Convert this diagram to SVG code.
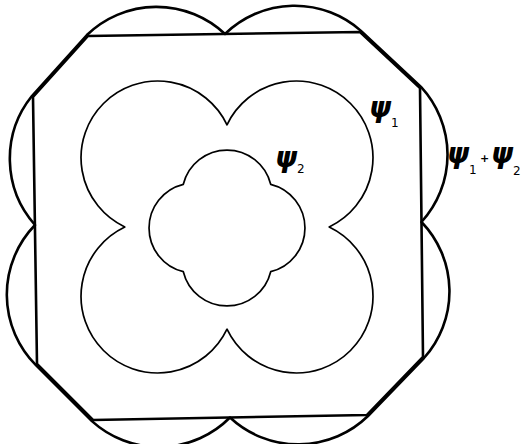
<svg xmlns="http://www.w3.org/2000/svg" width="523" height="444" viewBox="0 0 523 444">
<style>
.bg{fill:#fff}
.thin{fill:none;stroke:#000;stroke-width:1.7;stroke-linejoin:round}
.thick{fill:none;stroke:#000;stroke-width:2.6;stroke-linejoin:round}
.psi{font-family:"DejaVu Sans",sans-serif;font-style:italic;font-weight:bold;font-size:28px;fill:#000}
.sub{font-family:"DejaVu Sans",sans-serif;font-style:normal;font-weight:normal;font-size:12px}
.plus{font-family:"DejaVu Sans",sans-serif;font-style:normal;font-weight:bold;font-size:11px}
</style>
<rect class="bg" x="0" y="0" width="523" height="444"/>
<g id="square">
<polygon class="thick" points="88,36 360,32 420,88 423,357 367,415 93,420 37,364 33,97"/>
</g>
<g id="psi1plus2">
<path class="thick" d="M 86.9 35 A 100 100 0 0 1 225 34 A 100 100 0 0 1 361 30.9 L 421 86.9 A 100 100 0 0 1 421.5 222 A 100 100 0 0 1 424 358 L 368 416 A 100 100 0 0 1 230 417.5 A 100 100 0 0 1 91.9 421.1 L 35.9 365.1 A 100 100 0 0 1 35 225 A 100 100 0 0 1 31.9 96 Z"/>
</g>
<g id="psi1">
<path class="thin" d="M 227 124.8 A 76.7 76.7 0 1 1 329.2 227 A 76.7 76.7 0 1 1 227 329.2 A 76.7 76.7 0 1 1 124.8 227 A 76.7 76.7 0 1 1 227 124.8 Z"/>
</g>
<g id="psi2">
<path class="thin" d="M 183.3 184.3 A 45 45 0 0 1 270.7 184.3 A 45 45 0 0 1 270.7 271.7 A 45 45 0 0 1 183.3 271.7 A 45 45 0 0 1 183.3 184.3 Z"/>
</g>
<g id="labels">
<text class="psi" x="369" y="117">ψ<tspan class="sub" x="391" y="127">1</tspan></text>
<text class="psi" x="275" y="167">ψ<tspan class="sub" x="297" y="173">2</tspan></text>
<text class="psi" x="447" y="163">ψ<tspan class="sub" x="469" y="174">1</tspan><tspan class="plus" x="480" y="162">+</tspan><tspan x="491" y="163">ψ</tspan><tspan class="sub" x="513" y="175">2</tspan></text>
</g>
</svg>
